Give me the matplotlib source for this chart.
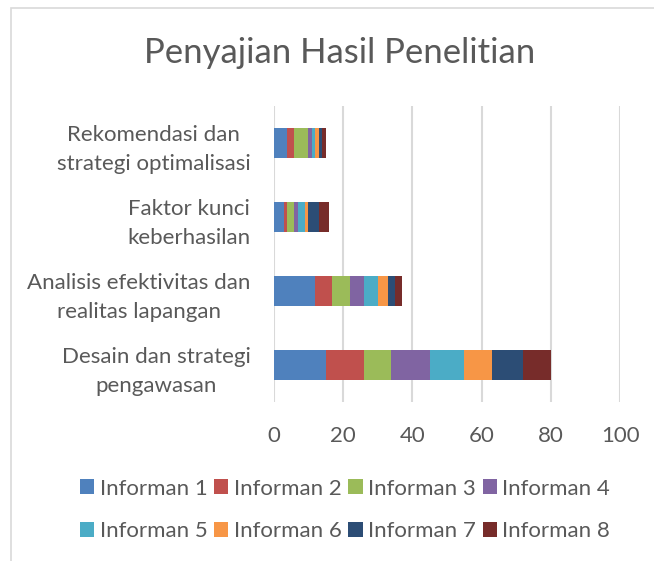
import matplotlib
matplotlib.use("Agg")
import matplotlib.pyplot as plt
from matplotlib.patches import Patch, Rectangle
import numpy as np

plt.rcParams['font.family'] = ['Lato', 'DejaVu Sans']

categories = ["Desain dan strategi\npengawasan",
              "Analisis efektivitas dan\nrealitas lapangan",
              "Faktor kunci\nkeberhasilan",
              "Rekomendasi dan\nstrategi optimalisasi"]
series_names = ["Informan 1", "Informan 2", "Informan 3", "Informan 4",
                "Informan 5", "Informan 6", "Informan 7", "Informan 8"]
informan_1 = [15, 12, 3, 4]
informan_2 = [11, 5, 1, 2]
informan_3 = [8, 5, 2, 4]
informan_4 = [11, 4, 1, 1]
informan_5 = [10, 4, 2, 1]
informan_6 = [8, 3, 1, 1]
informan_7 = [9, 2, 3, 1]
informan_8 = [8, 2, 3, 1]
series_values = [informan_1, informan_2, informan_3, informan_4,
                 informan_5, informan_6, informan_7, informan_8]
colors = ["#4F81BD", "#C0504D", "#9BBB59", "#8064A2",
          "#4BACC6", "#F79646", "#2C4D75", "#772C2A"]
x_ticks = [0, 20, 40, 60, 80, 100]

text_color = "#595959"
grid_color = "#D9D9D9"

W, H = 654, 561
fig = plt.figure(figsize=(W / 100, H / 100), dpi=100)

# outer chart border (partially visible)
fig.patches.append(Rectangle((11 / W, -0.1), 1.2, 1 - 8 / H + 0.1,
                             transform=fig.transFigure, fill=False,
                             edgecolor=grid_color, linewidth=1.2))

ax_l, ax_r = 273.5, 620.3
ax_t, ax_b = 106, 402
ax = fig.add_axes([ax_l / W, 1 - ax_b / H, (ax_r - ax_l) / W, (ax_b - ax_t) / H])

y = np.arange(len(categories))
left = np.zeros(len(categories))
for name, vals, c in zip(series_names, series_values, colors):
    ax.barh(y, vals, left=left, height=0.4, color=c, label=name,
            edgecolor='none', zorder=3)
    left += np.array(vals)

ax.set_xlim(0, 100)
ax.set_ylim(-0.5, len(categories) - 0.5)
ax.set_xticks(x_ticks)
ax.set_xticklabels([str(t) for t in x_ticks])
ax.set_yticks(y)
ax.set_yticklabels(categories)
for lbl in ax.get_yticklabels():
    lbl.set_multialignment('center')
    lbl.set_linespacing(1.55)
ax.grid(axis='x', color=grid_color, linewidth=1.5, zorder=0)
for s in ax.spines.values():
    s.set_visible(False)
ax.tick_params(axis='both', length=0, labelsize=16, colors=text_color)
ax.tick_params(axis='y', pad=16.5)
ax.tick_params(axis='x', pad=17)

fig.text(340 / W, 1 - 53 / H, "Penyajian Hasil Penelitian", ha='center',
         va='center', fontsize=25, color=text_color)

order = [0, 4, 1, 5, 2, 6, 3, 7]
handles = [Patch(facecolor=colors[i], edgecolor='none') for i in order]
labels = [series_names[i] for i in order]
leg = fig.legend(handles, labels, loc='center',
                 bbox_to_anchor=(345 / W, 1 - 510 / H), ncol=4,
                 frameon=False, fontsize=16, handlelength=0.65,
                 handleheight=0.65, handletextpad=0.24, columnspacing=0.3,
                 labelspacing=1.03, borderpad=0)
for t in leg.get_texts():
    t.set_color(text_color)

fig.savefig("out.png", dpi=100)
